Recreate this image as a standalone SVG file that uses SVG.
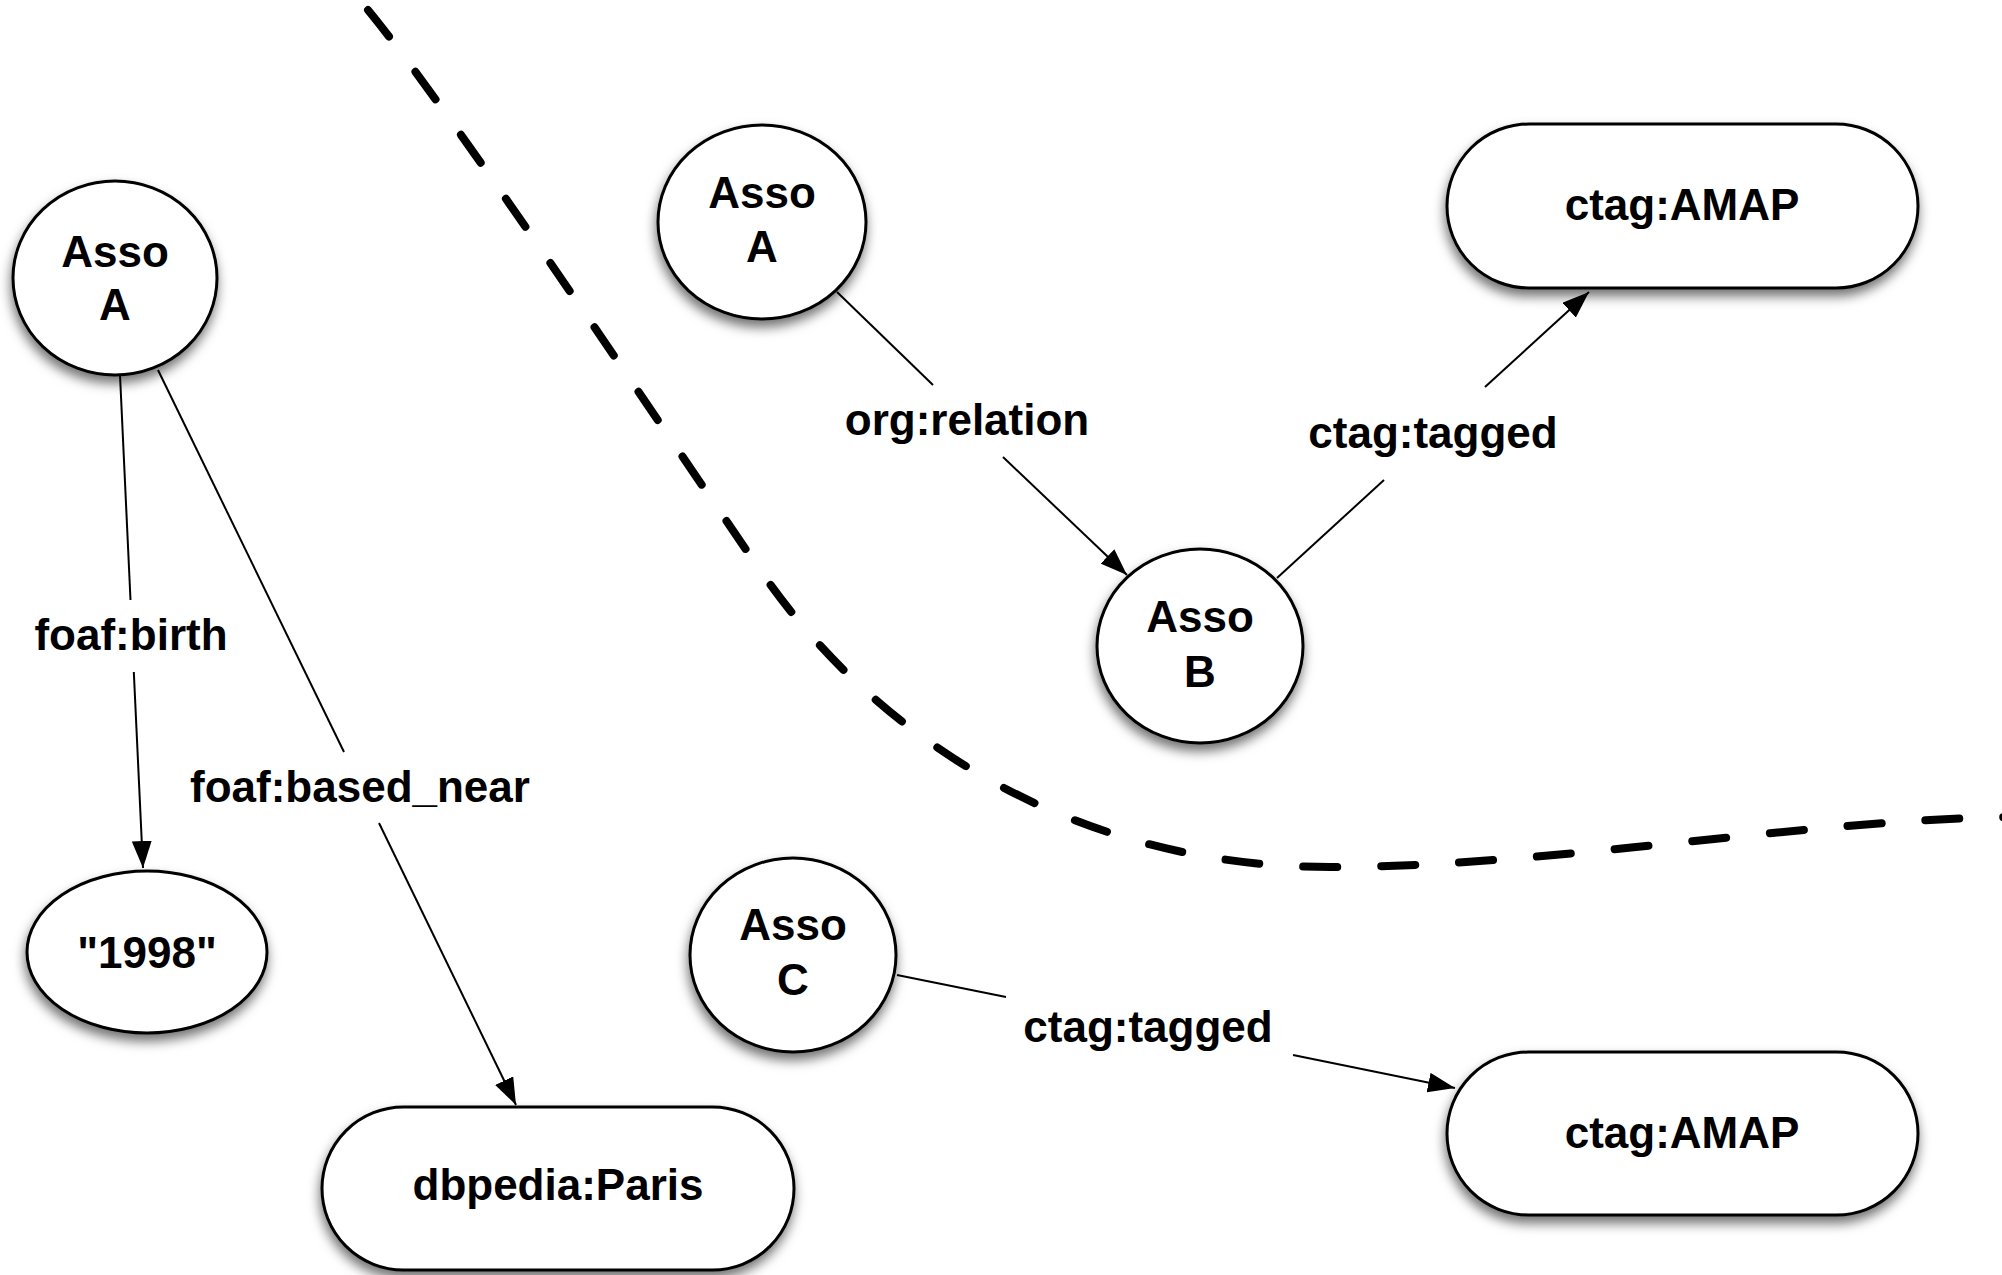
<svg xmlns="http://www.w3.org/2000/svg" width="2002" height="1275" viewBox="0 0 2002 1275">
  <style>
    .shape { fill: #ffffff; stroke: #000000; stroke-width: 3; filter: url(#shadow); }
    .lbl { font-family: "Liberation Sans", Arial, sans-serif; font-weight: bold; font-size: 44px; fill: #000000; text-anchor: middle; }
    .edge { stroke: #000000; stroke-width: 2; fill: none; }
    .arrow { marker-end: url(#head); }
    .divider { fill: none; stroke: #000000; stroke-width: 8; stroke-linecap: round; stroke-dasharray: 34 44; }
  </style>
  <defs>
    <filter id="shadow" x="-20%" y="-20%" width="140%" height="150%">
      <feDropShadow dx="-1" dy="7" stdDeviation="6" flood-color="#000000" flood-opacity="0.55"/>
    </filter>
    <marker id="head" markerUnits="userSpaceOnUse" markerWidth="28" markerHeight="20" refX="27" refY="10" orient="auto">
      <path d="M0,0 L27,10 L0,20 z" fill="#000000"/>
    </marker>
  </defs>
  <rect x="0" y="0" width="2002" height="1275" fill="#ffffff"/>

  <path class="divider" d="M368,10 C450,110 650,410 760,570 C880,744 1080,867 1330,867 C1550,867 1800,820 2010,817"/>

  <g id="connectors">
    <g id="e-birth">
      <line class="edge" x1="120" y1="375" x2="130.5" y2="600"/>
      <line class="edge arrow" x1="133.8" y1="672" x2="143" y2="868"/>
      <text class="lbl" x="131" y="650">foaf:birth</text>
    </g>
    <g id="e-based-near">
      <line class="edge" x1="158" y1="370" x2="344" y2="752"/>
      <line class="edge arrow" x1="379" y1="823" x2="516" y2="1105"/>
      <text class="lbl" x="360" y="802">foaf:based_near</text>
    </g>
    <g id="e-relation">
      <line class="edge" x1="837" y1="292" x2="933" y2="385"/>
      <line class="edge arrow" x1="1003" y1="457" x2="1127" y2="575"/>
      <text class="lbl" x="967" y="435">org:relation</text>
    </g>
    <g id="e-tagged-b">
      <line class="edge" x1="1277" y1="578" x2="1384" y2="480"/>
      <line class="edge arrow" x1="1485" y1="387" x2="1589" y2="292"/>
      <text class="lbl" x="1433" y="448">ctag:tagged</text>
    </g>
    <g id="e-tagged-c">
      <line class="edge" x1="897" y1="975" x2="1006" y2="997"/>
      <line class="edge arrow" x1="1293" y1="1055" x2="1455" y2="1088"/>
      <text class="lbl" x="1148" y="1042">ctag:tagged</text>
    </g>
  </g>

  <g id="asso-a-left">
    <ellipse class="shape" cx="115" cy="278" rx="102" ry="97"/>
    <text class="lbl" x="115" y="267">Asso</text>
    <text class="lbl" x="115" y="320">A</text>
  </g>
  <g id="year-1998">
    <ellipse class="shape" cx="147" cy="952" rx="120" ry="81"/>
    <text class="lbl" x="147" y="968">"1998"</text>
  </g>
  <g id="dbpedia-paris">
    <rect class="shape" x="322" y="1107" width="472" height="163" rx="81.5" ry="81.5"/>
    <text class="lbl" x="558" y="1200">dbpedia:Paris</text>
  </g>
  <g id="asso-a-right">
    <ellipse class="shape" cx="762" cy="222" rx="104" ry="97"/>
    <text class="lbl" x="762" y="208">Asso</text>
    <text class="lbl" x="762" y="262">A</text>
  </g>
  <g id="asso-b">
    <ellipse class="shape" cx="1200" cy="646" rx="103" ry="97"/>
    <text class="lbl" x="1200" y="632">Asso</text>
    <text class="lbl" x="1200" y="687">B</text>
  </g>
  <g id="ctag-amap-top">
    <rect class="shape" x="1447" y="124" width="471" height="164" rx="82" ry="82"/>
    <text class="lbl" x="1682" y="220">ctag:AMAP</text>
  </g>
  <g id="asso-c">
    <ellipse class="shape" cx="793" cy="955" rx="103" ry="97"/>
    <text class="lbl" x="793" y="940">Asso</text>
    <text class="lbl" x="793" y="995">C</text>
  </g>
  <g id="ctag-amap-bottom">
    <rect class="shape" x="1447" y="1052" width="471" height="163" rx="81.5" ry="81.5"/>
    <text class="lbl" x="1682" y="1148">ctag:AMAP</text>
  </g>
</svg>
